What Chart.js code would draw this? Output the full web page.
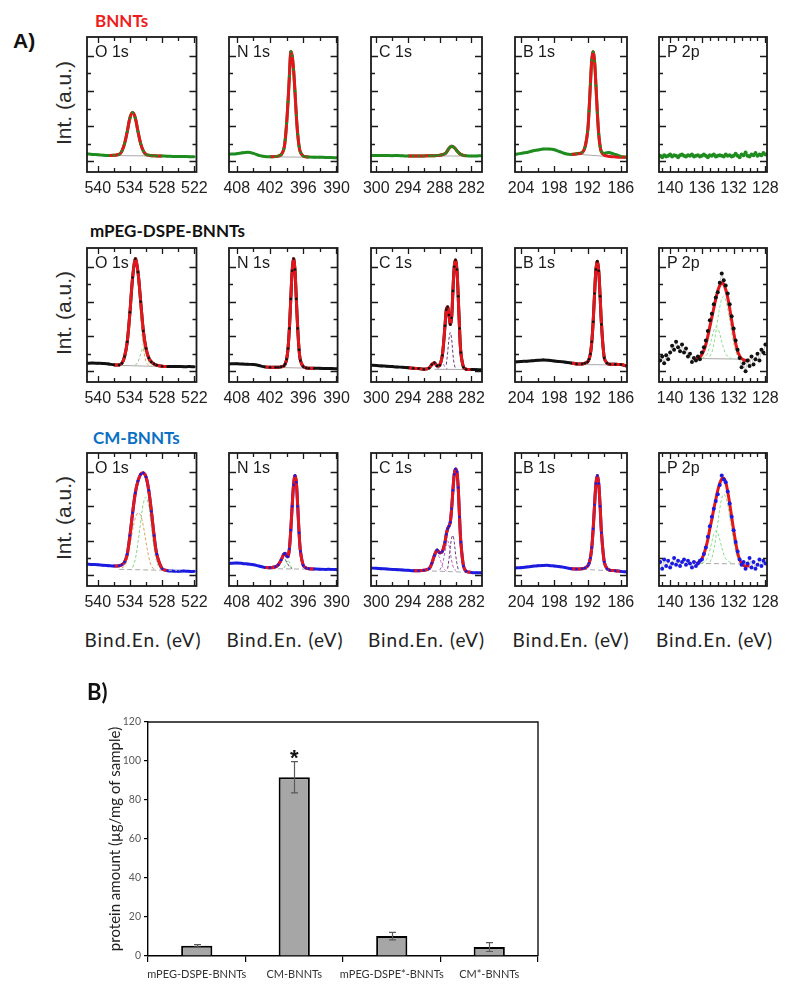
<!DOCTYPE html>
<html><head><meta charset="utf-8">
<script src="https://cdn.jsdelivr.net/npm/chart.js@4/dist/chart.umd.min.js"></script>
<style>
html,body{margin:0;padding:0;background:#fff;}
body{width:800px;height:994px;position:relative;overflow:hidden;font-family:'Liberation Sans',Arial,sans-serif;}
.t{position:absolute;white-space:nowrap;line-height:1;}
canvas{position:absolute;}
</style></head><body>
<script>
// ---------------- DATA: XPS spectra (intensity in % of panel height) ----------------
const ELEMENTS = ['O 1s','N 1s','C 1s','B 1s','P 2p'];
const SAMPLES = ['BNNTs','mPEG-DSPE-BNNTs','CM-BNNTs'];

const O_E = [542,541,540,539,538,537,536,535.5,535,534.5,534,533.5,533,532.5,532,531.5,531,530.5,530,529.5,529,528,527,526,525,524,523,522];
const O_BNNT = [13.5,13,12.8,12.5,12.3,12.4,13,15.5,21,30,40,44,40,30,21,15.5,13,12.4,12.1,12,11.9,11.8,11.7,11.5,11.5,11.5,11.3,11.3];
const O_MPEG = [14,14.2,14,13.8,13.5,12.8,12.7,14,19,30,52,78,92,82,60,38,25,18,15,13.5,12.5,11.8,11.5,11.5,11.6,11.4,11.5,11.3];
const O_CM = [16.5,16.2,16,15.6,15.3,15,15.2,16,18,24,38,55,70,79,84,85,82,72,56,38,24,13,11.5,11.2,11,11.3,11,11];

const N_E = [409.4,408,407,406,405,404,403,402,401,400.5,400,399.5,399.25,399,398.75,398.5,398.25,398,397.75,397.5,397.25,397,396.75,396.5,396,395.5,395,394,393,392,391,389.8];
const N_BNNT = [13.2,13.5,14.2,14.6,13.8,12.3,11.5,11.3,11.5,11.8,12.8,17,24,36,52,71,89,86,76,60,42,28,19,14.5,11.8,11.3,11.1,11,11,10.8,10.7,10.5];
const N_MPEG = [13.5,13.6,13.4,13.2,13,12.3,11.3,11,11,11,11.3,12,13.5,17,25,40,62,83,92,84,62,40,24,16,11.5,10.5,10.3,10.2,10.2,10,10,9.8];
const N_CM = [17,17.3,17,16.5,16,15,14,13.8,14.5,16,19.5,24,24.5,22.5,22,28,42,60,76,83,78,60,40,26,15.5,13.5,13,12.8,12.6,12.5,12.5,12.3];

const C_E = [301,300,299,298,297,296,295,294,293,292,291,290,289.5,289,288.5,288,287.5,287,286.75,286.5,286.25,286,285.75,285.5,285.25,285,284.75,284.5,284.25,284,283.5,283,282,281,280];
const C_BNNT = [12.3,12.2,12.3,12.2,12.1,12.2,12,11.8,11.8,11.8,11.9,12,12,12.1,12.2,12.4,12.8,13.5,14.5,16,17.5,18.5,19,18.8,18,17,15.8,14.7,13.7,13,12.3,12,11.8,11.9,12];
const C_MPEG = [12.5,12.3,12,11.8,11.5,11.2,11,10.7,10.3,10,9.6,10.5,13,14.4,12,12.5,20,42,54,56,50,43,48,68,86,91,84,64,40,22,11,9.5,9.3,9.2,9];
const C_CM = [13.5,13.3,13,12.8,12.5,12.3,12,11.8,11.5,11.5,11.8,13,17,23,27,25,26,33,39,43,45,48,58,72,84,88,86,74,52,33,15,11,10.2,10,10];

const B_E = [205,204,203,202,201,200,199,198,197,196,195,194,193,192.5,192,191.75,191.5,191.25,191,190.75,190.5,190.25,190,189.75,189.5,189,188.5,188,187,186,185];
const B_BNNT = [13.2,13.8,14.5,15.5,16.3,17,17,16.5,15,13.5,13,13.5,14.5,18,30,45,65,83,89,82,64,44,28,19,15,13.8,14.3,14.3,13,11.5,11];
const B_MPEG = [15,15.3,15.5,15.8,16.2,16.5,16.2,15.7,15.2,14.8,14.2,13.5,13.5,14,15,17,21,30,45,66,84,90,83,64,43,18,14,13.3,13.3,13,12];
const B_CM = [13.6,13.8,14.3,14.8,15.3,15.5,15.5,15,14.5,13.8,13,12.8,13,13.5,15,17,21,29,43,61,77,83,77,60,40,18,13,11.8,11.5,11,10.6];
const B_FIT_E = [195,194,193,192.5,192,191.75,191.5,191.25,191,190.75,190.5,190.25,190,189.75,189.5,189,188.5,188,187,186,185];
const B_FIT_BNNT = [13,13.3,14.3,18,30,45,65,83,89,82,64,44,28,19,14.5,12.5,11.8,11.5,11.2,11,11];

const P_E = [141.25,141,140.75,140.5,140.25,140,139.75,139.5,139.25,139,138.75,138.5,138.25,138,137.75,137.5,137.25,137,136.75,136.5,136.25,136,135.75,135.5,135.25,135,134.75,134.5,134.25,134,133.75,133.5,133.25,133,132.75,132.5,132.25,132,131.75,131.5,131.25,131,130.75,130.5,130.25,130,129.75,129.5,129.25,129,128.75,128.5,128.25,128];
const P_BNNT = [12,11,12.5,11.5,12,13,11.5,12.5,12,11,12.5,13,12,11.5,12.5,12,13,11.5,12,12.5,11.5,12,13,12,11,12.5,12,13,11.5,12,12.5,12,11.5,13,12,12.5,11.5,12,13.5,12,11,13,12.5,14.5,12,11.5,13,12.5,14,12,13,12.5,14,13];
const P_MPEG = [16,19,14,20,17,22,27,24,30,26,23,28,22,25,19,21,15,18,16,19,17,22,26,31,38,46,51,58,63,67,74,81,76,72,66,58,49,40,31,24,18,11,14,8,16,12,19,13,17,21,16,24,22,28];
const P_CM = [18,13,20,15,19,14,17,21,16,19,15,18,20,16,19,17,14,18,15,17,19,20,24,29,37,45,52,58,64,69,76,83,80,78,71,62,52,42,33,26,20,16,18,13,17,21,14,18,13,16,20,15,19,17];
const P_FIT_E = [136.75,136.5,136.25,136,135.75,135.5,135.25,135,134.75,134.5,134.25,134,133.75,133.5,133.25,133,132.75,132.5,132.25,132,131.75,131.5,131.25,131,130.75,130.5,130.25,130];
const P_FIT_MPEG = [17,17.5,18.5,20.5,23.5,28,34,41,48,55,62,68,72,74,73,69,63,55,46,37,29,23,19.5,17.5,16.5,16,16,16.5];
const P_FIT_CM = [17,17.5,18.5,20.5,24,29,35,43,50,58,65,72,77,80.5,81,78,71,62,52,42,33,25,20,17,15.5,15,15,15];

// fitted components [energy, intensity]
const O_MPEG_COMP_A = [[535,18],[534.5,29],[534,51],[533.5,77],[533,90],[532.5,79],[532,50],[531.5,26],[531,15],[530.5,12.5],[530,12]];
const O_MPEG_COMP_B = [[533,12.5],[532.5,15],[532,21],[531.5,26],[531,21],[530.5,15],[530,12.5]];
const O_CM_COMP_A = [[535.5,13.5],[535,15],[534.5,20],[534,30],[533.5,42],[533,51],[532.5,55],[532,53],[531.5,45],[531,33],[530.5,22],[530,15],[529.5,12.5]];
const O_CM_COMP_B = [[533.5,14],[533,20],[532.5,33],[532,48],[531.5,62],[531,67],[530.5,60],[530,44],[529.5,28],[529,18],[528.5,13.5],[528,12.5]];
const N_CM_COMP_A = [[401,13.5],[400.5,15],[400,18.5],[399.5,21],[399,18],[398.5,14.5],[398,13]];
const N_CM_COMP_B = [[399.5,13.5],[399,17],[398.75,19.5],[398.5,18],[398.25,15],[398,13]];
const C_MPEG_COMP_A = [[290,10],[289.5,12.5],[289,12.8],[288.5,10.5],[288,9.7]];
const C_MPEG_COMP_B = [[288.5,10.5],[288,15],[287.75,17],[287.5,15.5],[287,11],[286.5,9.7]];
const C_MPEG_COMP_C = [[286.75,13],[286.5,22],[286.25,32],[286,37],[285.75,32],[285.5,21],[285.25,13],[285,10]];
const C_CM_COMP_A = [[290,12],[289.5,14.5],[289,20],[288.5,24],[288,21],[287.5,15],[287,12],[286.5,11]];
const C_CM_COMP_B = [[288,12],[287.5,16],[287,26],[286.75,31],[286.5,34],[286.25,31],[286,25],[285.5,15],[285,11.5]];
const C_CM_COMP_C = [[286.5,13],[286.25,20],[286,29],[285.75,36],[285.5,38],[285.25,33],[285,24],[284.75,17],[284.5,12.5]];
const P_MPEG_COMP_A = [[135,19],[134.75,22],[134.5,28],[134.25,37],[134,47],[133.75,56],[133.5,62],[133.25,64],[133,61],[132.75,55],[132.5,46],[132.25,37],[132,29],[131.75,23],[131.5,19.5],[131,17.5]];
const P_MPEG_COMP_B = [[136,17.5],[135.5,19.5],[135.25,22],[135,27],[134.75,33],[134.5,38.5],[134.25,41],[134,40],[133.75,36],[133.5,30],[133.25,25],[133,21],[132.5,18],[132,17.5]];
const P_CM_COMP_A = [[135,18],[134.75,21],[134.5,27],[134.25,36],[134,47],[133.75,58],[133.5,66],[133.25,69],[133,67],[132.75,61],[132.5,52],[132.25,43],[132,34],[131.75,26],[131.5,21],[131,17.5]];
const P_CM_COMP_B = [[136,17],[135.5,19],[135.25,22],[135,27],[134.75,33],[134.5,39],[134.25,41.5],[134,40],[133.75,35],[133.5,29],[133.25,24],[133,20.5],[132.5,18],[132,17]];

// Shirley-type baselines [energy, intensity]
const BASELINES = [
  [[[538,12.2],[528,11.8]], [[402,11.2],[396,11]], [[292,12],[283,11.8]], [[194,13.2],[187.5,11.2]], null],
  [[[537,12.5],[527.5,11.5]], [[403,11],[394.5,10.3]], [[289,9.5],[282,9.3]], [[193,13],[188,12.8]], [[136.5,17.5],[130,17]]],
  [[[536,12.5],[524,11.5]], [[402,13],[394,12.6]], [[291,11.5],[282,10.2]], [[193,12.5],[187,11.3]], [[136.5,17],[130,16.5]]]
];

// axis ranges, ticks, tick labels (binding energy, eV)
const X_RANGES = [[521.6,542],[389.8,409.4],[280,301],[184.9,205.1],[127.8,141.4]];
const X_LABELS = [[540,534,528,522],[408,402,396,390],[300,294,288,282],[204,198,192,186],[140,136,132,128]];
const X_MINOR = [[540,537,534,531,528,525,522],[408,405,402,399,396,393,390],[300,297,294,291,288,285,282],[204,201,198,195,192,189,186],[141,140,139,138,137,136,135,134,133,132,131,130,129,128]];
const Y_MINOR = [8,21,34,47,60,73,86];

// ---------------- DATA: protein adsorption bar chart ----------------
const CATEGORIES = ['mPEG-DSPE-BNNTs','CM-BNNTs','mPEG-DSPE*-BNNTs','CM*-BNNTs'];
const PROTEIN = [5.2, 91.7, 10.2, 4.6];
const PROTEIN_ERR = [0.6, 8, 1.95, 2.3];
const SIGNIF = ['', '*', '', ''];
const Y_TICKS_B = [0,20,40,60,80,100,120];

// ---------------- assembly ----------------
const GRIDS = [O_E, N_E, C_E, B_E, P_E];
const SPECTRA = [
  [O_BNNT, N_BNNT, C_BNNT, B_BNNT, P_BNNT],
  [O_MPEG, N_MPEG, C_MPEG, B_MPEG, P_MPEG],
  [O_CM, N_CM, C_CM, B_CM, P_CM]
];
const FIT_RANGES = [
  [[528,538],[395,402],[283,294],null,null],
  [[527,537],[394,403],[282,294],[185,195],null],
  [[527,537],[394,403],[282,293],[186,195],null]
];
const FIT_CURVES = {'0-3':[B_FIT_E,B_FIT_BNNT], '1-4':[P_FIT_E,P_FIT_MPEG], '2-4':[P_FIT_E,P_FIT_CM]};
const COMPONENTS = {
  '1-0': [[O_MPEG_COMP_A,'#d9a35e'],[O_MPEG_COMP_B,'#86d486']],
  '2-0': [[O_CM_COMP_A,'#d9a35e'],[O_CM_COMP_B,'#86d486']],
  '2-1': [[N_CM_COMP_A,'#666666'],[N_CM_COMP_B,'#7fd3a0']],
  '1-2': [[C_MPEG_COMP_A,'#c87fd2'],[C_MPEG_COMP_B,'#c87fd2'],[C_MPEG_COMP_C,'#6b3a78']],
  '2-2': [[C_CM_COMP_A,'#c87fd2'],[C_CM_COMP_B,'#b064c0'],[C_CM_COMP_C,'#6b3a78']],
  '1-4': [[P_MPEG_COMP_A,'#8edc8e'],[P_MPEG_COMP_B,'#8edc8e']],
  '2-4': [[P_CM_COMP_A,'#8edc8e'],[P_CM_COMP_B,'#8edc8e']]
};

const DATA_COLORS = ['#1f8c1f','#111111','#1c1ce0'];
const TITLE_COLORS = ['#ee1c1c','#111111','#0a70c4'];
const ROW_TOP = [35, 246, 451];
const ROW_H = [137, 136, 135];
const COL_LEFT = [87, 229, 371, 515, 659];
const COL_W = [112, 112, 111, 112, 111];

function addText(txt, css) {
  const d = document.createElement('div');
  d.className = 't';
  d.textContent = txt;
  d.style.cssText += css;
  document.body.appendChild(d);
  return d;
}
const xy = (xs, ys) => xs.map((x, i) => ({x, y: ys[i]}));
const pairs = p => p.map(([x, y]) => ({x, y}));

const innerTicks = {
  id: 'innerTicks',
  afterDraw(chart, args, o) {
    const {ctx, chartArea: a, scales} = chart;
    const x = scales.x, y = scales.y;
    ctx.save();
    ctx.strokeStyle = '#1a1a1a';
    ctx.lineWidth = 1.3;
    ctx.beginPath();
    o.xTicks.forEach(v => {
      const px = Math.round(x.getPixelForValue(v)) + 0.5;
      const len = o.xLabels.includes(v) ? 6 : 4;
      ctx.moveTo(px, a.bottom); ctx.lineTo(px, a.bottom - len);
      ctx.moveTo(px, a.top); ctx.lineTo(px, a.top + len);
    });
    o.yTicks.forEach((v, i) => {
      const py = Math.round(y.getPixelForValue(v)) + 0.5;
      const len = i % 2 ? 4 : 7;
      ctx.moveTo(a.left, py); ctx.lineTo(a.left + len, py);
      ctx.moveTo(a.right, py); ctx.lineTo(a.right - len, py);
    });
    ctx.stroke();
    ctx.lineWidth = 1.8;
    ctx.strokeRect(a.left, a.top, a.right - a.left, a.bottom - a.top);
    ctx.restore();
  }
};

function makePanel(r, c) {
  const L = COL_LEFT[c], T = ROW_TOP[r], W = COL_W[c], H = ROW_H[r];
  const PADX = 16, PADT = 2, AXH = 26;
  const cv = document.createElement('canvas');
  cv.width = W + 2 * PADX; cv.height = H + PADT + AXH;
  cv.style.left = (L - PADX) + 'px'; cv.style.top = (T - PADT) + 'px';
  cv.style.width = cv.width + 'px'; cv.style.height = cv.height + 'px';
  document.body.appendChild(cv);

  const isP = c === 4;
  const col = DATA_COLORS[r];
  const data = xy(GRIDS[c], SPECTRA[r][c]);
  const ds = [];
  ds.push({data, showLine: true, borderColor: (isP && r > 0) ? 'rgba(60,60,60,0.35)' : col,
    borderWidth: isP ? (r > 0 ? 0.8 : 2) : 3, pointRadius: 0, tension: isP ? 0 : 0.3, order: 6});
  const bl = BASELINES[r][c];
  if (bl) ds.push({data: pairs(bl), showLine: true, borderColor: '#a8a8a8', borderWidth: 1,
    borderDash: r === 2 ? [5, 3] : [], pointRadius: 0, order: 5});
  (COMPONENTS[r + '-' + c] || []).forEach(([pts, cc]) => ds.push({data: pairs(pts), showLine: true,
    borderColor: cc, borderWidth: 1, borderDash: [3, 2], pointRadius: 0, tension: 0.35, order: 4}));
  const key = r + '-' + c;
  let fit = null;
  if (FIT_CURVES[key]) fit = xy(FIT_CURVES[key][0], FIT_CURVES[key][1]);
  else if (FIT_RANGES[r][c]) { const [lo, hi] = FIT_RANGES[r][c]; fit = data.filter(p => p.x >= lo && p.x <= hi); }
  if (fit) ds.push({data: fit, showLine: true, borderColor: '#e3161b', borderWidth: 3, pointRadius: 0, tension: 0.35, order: 3});
  ds.push({data, showLine: false, pointRadius: isP ? 2 : 1.3, pointBackgroundColor: col, pointBorderWidth: 0, order: 1});

  new Chart(cv, {
    type: 'scatter',
    data: {datasets: ds},
    options: {
      responsive: false, animation: false, devicePixelRatio: 1, events: [],
      layout: {padding: {left: PADX, right: PADX, top: PADT, bottom: 0}},
      plugins: {legend: {display: false}, tooltip: {enabled: false},
        innerTicks: {xTicks: X_MINOR[c], xLabels: X_LABELS[c], yTicks: Y_MINOR}},
      scales: {
        x: {type: 'linear', reverse: true, min: X_RANGES[c][0], max: X_RANGES[c][1],
          afterBuildTicks: ax => { ax.ticks = X_LABELS[c].map(v => ({value: v})); },
          afterFit: s => { s.height = AXH; },
          grid: {display: false, drawTicks: false}, border: {display: false},
          ticks: {autoSkip: false, maxRotation: 0, minRotation: 0, padding: 7, color: '#222',
            font: {family: "'Liberation Sans', Arial", size: 16}, callback: v => String(v)}},
        y: {display: false, min: 0, max: 100}
      }
    },
    plugins: [innerTicks]
  });
  addText(ELEMENTS[c], `left:${L + 8}px;top:${T + 9}px;font-size:16px;color:#1a1a1a;font-family:'Liberation Sans',Arial;`);
}

// Panel A texts
addText('A)', "left:13px;top:29px;font:bold 21px 'Liberation Sans',Arial;color:#111;");
const TITLE_TOPS = [10, 220, 427];
const TITLE_LEFTS = [95, 90, 93];
SAMPLES.forEach((s, r) => addText(s, `left:${TITLE_LEFTS[r]}px;top:${TITLE_TOPS[r]}px;font:bold 17px Lato;color:${TITLE_COLORS[r]};`));
ROW_TOP.forEach((t, r) => addText('Int. (a.u.)', `left:64px;top:${t + ROW_H[r] / 2 - 1}px;font:21px 'Liberation Sans',Arial;color:#2a2a2a;transform:translate(-50%,-50%) rotate(-90deg);`));
COL_LEFT.forEach((l, c) => addText('Bind.En. (eV)', `left:${l + COL_W[c] / 2}px;top:639px;font:19px Lato;letter-spacing:1px;color:#222;transform:translate(-50%,-50%);`));

for (let r = 0; r < 3; r++) for (let c = 0; c < 5; c++) makePanel(r, c);

// ---------------- Panel B bar chart ----------------
addText('B)', "left:87px;top:678px;font:bold 22px Lato;color:#111;");
const bcv = document.createElement('canvas');
bcv.width = 440; bcv.height = 294;
bcv.style.left = '100px'; bcv.style.top = '700px'; bcv.style.width = '440px'; bcv.style.height = '294px';
document.body.appendChild(bcv);

const barDeco = {
  id: 'barDeco',
  afterDatasetsDraw(chart) {
    const {ctx, scales: {y}} = chart;
    const meta = chart.getDatasetMeta(0);
    ctx.save();
    ctx.strokeStyle = '#5a5a5a'; ctx.lineWidth = 1.2;
    meta.data.forEach((bar, i) => {
      const x = Math.round(bar.x) + 0.5;
      const top = y.getPixelForValue(PROTEIN[i] + PROTEIN_ERR[i]);
      const bot = y.getPixelForValue(PROTEIN[i] - PROTEIN_ERR[i]);
      ctx.beginPath();
      ctx.moveTo(x, top); ctx.lineTo(x, bot);
      ctx.moveTo(x - 3.5, top); ctx.lineTo(x + 3.5, top);
      ctx.moveTo(x - 3.5, bot); ctx.lineTo(x + 3.5, bot);
      ctx.stroke();
      if (SIGNIF[i]) {
        ctx.fillStyle = '#111';
        ctx.font = "bold 22px 'Liberation Sans', Arial";
        ctx.textAlign = 'center'; ctx.textBaseline = 'alphabetic';
        ctx.fillText(SIGNIF[i], bar.x, top + 3);
      }
    });
    ctx.restore();
  },
  afterDraw(chart) {
    const {ctx, chartArea: a} = chart;
    ctx.save();
    ctx.strokeStyle = '#111'; ctx.lineWidth = 1.4;
    ctx.beginPath();
    ctx.moveTo(a.left, a.top); ctx.lineTo(a.right, a.top); ctx.lineTo(a.right, a.bottom);
    ctx.stroke();
    ctx.restore();
  }
};

new Chart(bcv, {
  type: 'bar',
  data: {labels: CATEGORIES, datasets: [{data: PROTEIN, backgroundColor: '#a6a6a6', borderColor: '#000',
    borderWidth: 2, barPercentage: 0.32, categoryPercentage: 1}]},
  options: {
    responsive: false, animation: false, devicePixelRatio: 1, events: [],
    layout: {padding: {left: 0, right: 2, top: 22, bottom: 0}},
    plugins: {legend: {display: false}, tooltip: {enabled: false}},
    scales: {
      x: {offset: true, afterFit: s => { s.height = 38; },
        grid: {offset: true, drawOnChartArea: false, drawTicks: true, tickLength: 6, color: '#000', lineWidth: 1.2},
        border: {color: '#000', width: 1.4},
        ticks: {autoSkip: false, maxRotation: 0, minRotation: 0, padding: 6, color: '#333', font: {family: 'Lato', size: 11}}},
      y: {min: 0, max: 120, afterFit: s => { s.width = 48; },
        afterBuildTicks: ax => { ax.ticks = Y_TICKS_B.map(v => ({value: v})); },
        grid: {drawOnChartArea: false, drawTicks: true, tickLength: 4, color: '#000', lineWidth: 1.2},
        border: {color: '#000', width: 1.4},
        ticks: {padding: 3, color: '#595959', font: {family: 'Lato', size: 10.5}},
        title: {display: true, text: 'protein amount (µg/mg of sample)', color: '#222',
          font: {family: 'Lato', size: 15}, padding: {top: 6, bottom: 0}}}
    }
  },
  plugins: [barDeco]
});
</script>
</body></html>
